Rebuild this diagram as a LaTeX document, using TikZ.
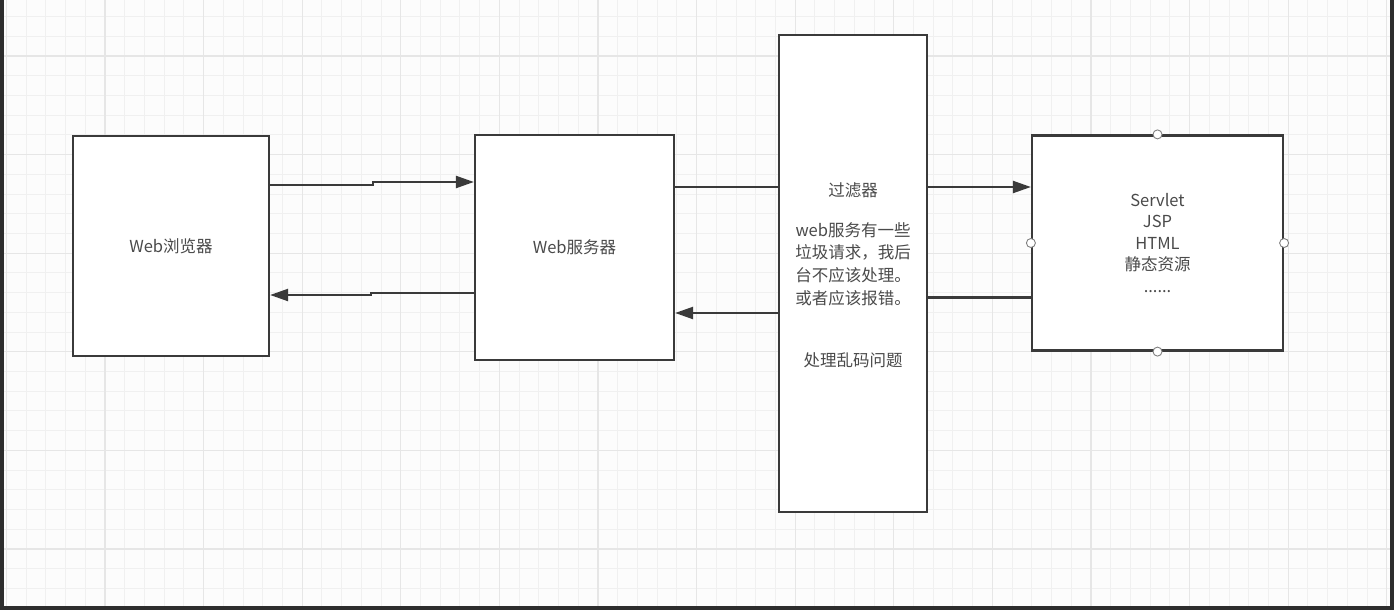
\documentclass[tikz,border=0pt]{standalone}
\usepackage{fontspec}
\setmainfont{Noto Sans CJK SC}
\usetikzlibrary{arrows.meta}

\definecolor{edge}{HTML}{3A3A3A}
\definecolor{ink}{HTML}{4A4A4A}
\definecolor{gridminor}{HTML}{F0F0F0}
\definecolor{gridmajor}{HTML}{E6E6E6}
\definecolor{frame}{HTML}{2D2D2D}

\tikzset{
  box/.style={draw=edge, line width=2.2pt, fill=white, text=ink,
    inner sep=0pt, align=center},
  txt/.style={text=ink, align=center, inner sep=0pt},
  line/.style={draw=edge, line width=2.2pt},
  flow/.style={line, -{Triangle[length=18pt,width=12pt]}},
  handle/.style={draw=gray, fill=white, line width=0.9pt}
}

\begin{document}
\begin{tikzpicture}[x=1pt, y=-1pt, font=\fontsize{16.5}{21.5}\selectfont]
    % background, grid and screen frame
    \fill[white!98!gray] (0,0) rectangle (1394,610);
    \useasboundingbox (0,0) rectangle (1394,610);
    \foreach \i in {-5,...,66}
      \draw[gridminor, line width=1pt] (105+19.72*\i,0) -- (105+19.72*\i,610);
    \foreach \j in {-3,...,28}
      \draw[gridminor, line width=1pt] (0,549-19.72*\j) -- (1394,549-19.72*\j);
    \foreach \i in {-1,...,13}
      \draw[gridmajor, line width=1.2pt] (105+98.6*\i,0) -- (105+98.6*\i,610);
    \foreach \j in {-1,...,6}
      \draw[gridmajor, line width=1.2pt] (0,549-98.6*\j) -- (1394,549-98.6*\j);
    \fill[frame] (0,0) rectangle (4,610);
    \fill[frame] (1390,0) rectangle (1394,610);
    \fill[frame] (0,606) rectangle (1394,610);

    % boxes
    \node[box, minimum width=196pt, minimum height=220pt] (browser) at (171,246) {Web浏览器};
    \node[box, minimum width=199pt, minimum height=225pt] (server) at (574.5,247.5) {Web服务器};
    \node[box, minimum width=148pt, minimum height=477pt] (filter) at (853,273.5) {};
    \node[box, minimum width=251pt, minimum height=215pt] (servlet) at (1157.5,243)
      {Servlet\\JSP\\HTML\\静态资源\\......};
    \foreach \a in {north,south,east,west}
      \draw[handle] (servlet.\a) circle (4.5);

    % filter texts
    \node[txt] (ftitle) at ([yshift=83.5pt]filter.center) {过滤器};
    \node[txt, font=\fontsize{16.5}{22.7}\selectfont] (fnote) at ([yshift=9.5pt]filter.center)
      {web服务有一些\\垃圾请求，我后\\台不应该处理。\\或者应该报错。};
    \node[txt] (fcode) at ([yshift=-86.5pt]filter.center) {处理乱码问题};

    % browser <-> server
    \draw[flow] ([yshift=61pt]browser.east) -- ++(103,0) |- ([yshift=65.5pt]server.west);
    \draw[flow] ([yshift=-45.5pt]server.west) -- ++(-103,0) |- ([yshift=-49pt]browser.east);

    % server <-> filter <-> servlet
    \draw[line] ([yshift=60.5pt]server.east) coordinate (req) -- (req -| filter.west);
    \draw[flow] (req -| filter.east) -- (req -| servlet.west);
    \draw[line] ([yshift=-54.5pt]servlet.west) coordinate (resp) -- (resp -| filter.east);
    \draw[flow] ([yshift=-39.5pt]filter.west) coordinate (back) -- (back -| server.east);
\end{tikzpicture}
\end{document}
